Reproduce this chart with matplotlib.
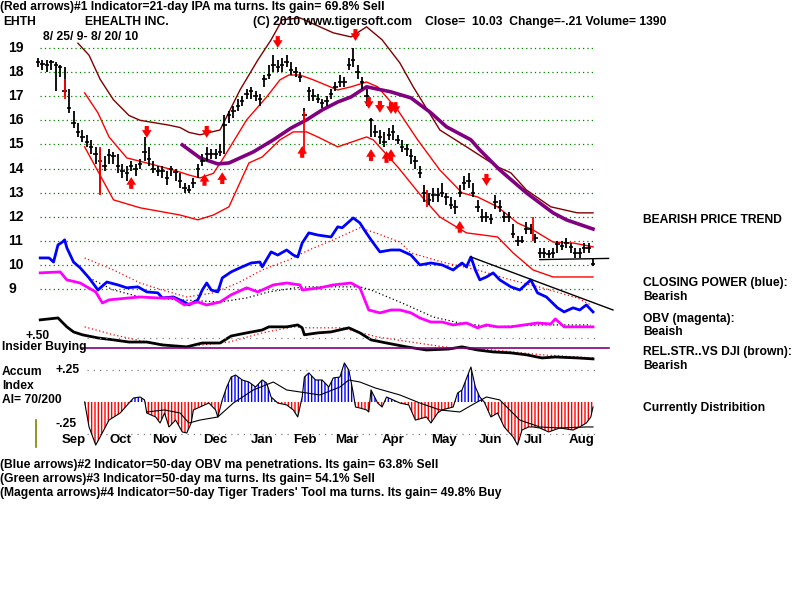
import numpy as np
import matplotlib
matplotlib.use("Agg")
import matplotlib.pyplot as plt

# ---- price bars, one bar every 2 trading days (8/25/09 - 8/20/10) ----
closes = [18.4, 18.35, 18.3, 18.4, 18.3, 18.2, 17.2, 16.5, 15.9, 15.5, 15.3, 15.1, 14.9, 14.6, 14.3, 14.1,
          14.55, 14.5, 14.1, 13.9, 13.8, 14.1, 14.0, 14.2, 14.7, 14.4, 14.0, 13.9, 13.9, 13.6, 14.0, 13.85,
          13.5, 13.2, 13.1, 13.4, 14.0, 14.3, 14.6, 14.6, 14.6, 14.7, 15.8, 16.2, 16.4, 16.6, 16.8, 17.1,
          17.2, 17.0, 16.9, 17.7, 17.9, 18.3, 18.2, 18.3, 18.4, 18.1, 18.0, 17.8, 16.2, 17.2, 17.0, 16.9,
          16.7, 16.8, 17.1, 17.4, 17.6, 17.6, 18.3, 18.5, 18.0, 17.6, 17.0, 16.0, 15.5, 15.3, 15.1, 15.4,
          15.5, 15.2, 14.9, 14.8, 14.5, 14.3, 13.8, 13.0, 12.7, 12.9, 12.9, 13.0, 12.8, 12.5, 12.4, 13.0,
          13.4, 13.5, 13.0, 12.4, 12.0, 12.0, 11.9, 12.6, 12.4, 12.0, 12.0, 11.3, 11.0, 11.0, 11.5, 11.5,
          11.1, 10.5, 10.5, 10.45, 10.5, 10.85, 10.8, 10.9, 10.75, 10.5, 10.5, 10.7, 10.7, 10.03]
highs = [18.6, 18.5, 18.5, 18.5, 18.4, 18.3, 18.2, 17.3, 16.4, 15.9, 15.6, 15.4, 15.2, 14.9, 14.8, 14.5,
         14.8, 14.7, 14.6, 14.2, 14.1, 14.3, 14.2, 14.4, 15.3, 14.9, 14.3, 14.1, 14.1, 13.9, 14.1, 14.0,
         13.8, 13.4, 13.3, 13.6, 14.2, 14.6, 14.9, 14.8, 14.8, 15.0, 16.2, 16.4, 16.6, 16.9, 17.0, 17.3,
         17.4, 17.2, 17.1, 17.9, 18.3, 18.7, 18.5, 18.6, 18.7, 18.4, 18.2, 18.0, 16.5, 17.4, 17.3, 17.1,
         16.9, 17.0, 17.3, 17.6, 17.9, 17.8, 18.6, 19.0, 18.3, 17.8, 17.3, 16.1, 15.8, 15.6, 15.5, 15.7,
         15.8, 15.4, 15.2, 15.0, 14.8, 14.5, 14.1, 13.3, 13.0, 13.2, 13.2, 13.4, 13.0, 12.8, 12.7, 13.3,
         13.7, 13.8, 13.4, 12.7, 12.3, 12.2, 12.1, 12.9, 12.7, 12.2, 12.2, 11.7, 11.2, 11.2, 11.8, 11.7,
         11.3, 10.7, 10.7, 10.6, 10.7, 11.0, 11.0, 11.1, 10.9, 10.7, 10.7, 10.9, 10.9, 10.3]
lows = [18.2, 18.1, 18.0, 18.1, 17.2, 17.8, 17.0, 16.3, 15.7, 15.3, 15.1, 14.9, 14.6, 14.2, 13.0, 13.9,
        14.2, 14.2, 13.8, 13.6, 13.5, 13.9, 13.7, 14.0, 14.3, 14.1, 13.8, 13.7, 13.6, 13.3, 13.7, 13.5,
        13.2, 13.0, 13.0, 13.2, 13.6, 14.1, 14.3, 14.4, 14.4, 14.5, 14.6, 15.9, 16.1, 16.4, 16.6, 16.9,
        16.9, 16.8, 16.6, 17.4, 17.7, 18.0, 18.0, 18.0, 18.2, 17.9, 17.8, 17.6, 15.9, 16.8, 16.8, 16.7,
        16.5, 16.6, 16.9, 17.2, 17.4, 17.4, 18.1, 18.2, 17.7, 17.3, 16.6, 15.3, 15.3, 15.0, 14.9, 15.2,
        15.2, 15.0, 14.7, 14.5, 14.2, 14.0, 13.6, 12.6, 12.5, 12.6, 12.6, 12.8, 12.5, 12.3, 12.1, 12.8,
        13.1, 13.2, 12.8, 12.2, 11.8, 11.8, 11.7, 12.3, 12.2, 11.8, 11.8, 11.1, 10.8, 10.9, 11.3, 11.3,
        10.9, 10.3, 10.3, 10.3, 10.3, 10.5, 10.6, 10.7, 10.5, 10.3, 10.3, 10.5, 10.5, 9.95]
bar_step = 2

# ---- bands around the 21-day ma (day, price) ----
top_days = [18, 23, 28, 34, 41, 46, 59, 64, 68, 73, 82, 91, 99, 105, 110, 118, 133, 141, 148, 155, 163,
            169, 181, 193, 207, 213, 220, 231, 243, 250]
top_band = [19.2, 18.7, 17.7, 16.85, 16.2, 16.0, 15.8, 15.7, 15.5, 15.4, 15.6, 17.26, 18.5, 19.34, 20.17,
            20.25, 19.63, 19.46, 19.88, 19.34, 18.38, 17.39, 15.6, 14.9, 14.07, 13.82, 13.11, 12.41, 12.16, 12.16]
mid_days = [21, 27, 32, 40, 49, 61, 68, 73, 79, 83, 94, 103, 109, 113, 118, 124, 135, 141, 148, 153, 162,
            171, 181, 191, 198, 207, 216, 223, 232, 241, 250]
mid_ma = [17.14, 16.31, 15.31, 14.44, 14.23, 13.94, 13.73, 13.61, 13.8, 14.36, 16.02, 16.97, 17.68, 17.88,
          17.88, 17.68, 17.26, 17.39, 17.59, 17.39, 16.43, 15.19, 13.94, 12.99, 12.82, 12.41, 11.74, 11.45,
          10.95, 10.91, 10.75]
low_days = [21, 34, 46, 64, 72, 79, 86, 95, 101, 109, 115, 121, 126, 135, 148, 151, 162, 173, 181, 193,
            207, 214, 223, 232, 243, 250]
low_band = [14.9, 12.7, 12.37, 12.07, 11.87, 12.07, 12.41, 14.23, 14.48, 15.19, 15.52, 15.52, 15.31, 14.9,
            15.31, 15.19, 14.07, 12.82, 11.99, 11.33, 11.16, 10.5, 9.79, 9.5, 9.5, 9.5]
# 50-day ma (purple)
ma50_days = [65, 73, 81, 86, 97, 106, 114, 121, 128, 135, 141, 148, 159, 168, 177, 184, 195, 199, 208,
             220, 232, 238, 250]
ma50 = [14.98, 14.44, 14.19, 14.23, 14.69, 15.19, 15.68, 16.02, 16.43, 16.76, 16.97, 17.39, 17.18, 16.93,
        16.31, 15.73, 15.19, 14.77, 13.94, 12.99, 12.16, 11.87, 11.49]

# ---- signal arrows (day, price) ----
up_days = [42, 75, 83, 119, 150, 157, 159, 190]
up_px = [13.4, 13.53, 13.6, 14.69, 14.56, 14.48, 14.56, 11.58]
down_days = [49, 76, 108, 143, 149, 154, 159, 161, 202]
down_px = [15.52, 15.52, 19.25, 19.54, 16.72, 16.56, 16.51, 16.51, 13.53]
red_bar_days = [12, 28, 120, 175, 223]
red_bar_lo = [16.9, 12.9, 14.6, 12.4, 11.0]
red_bar_hi = [17.7, 14.9, 16.4, 13.1, 12.0]

# ---- indicators drawn in the lower part of the price panel ----
cp_days = [1, 5, 7, 9, 11, 12, 13, 16, 19, 23, 27, 31, 36, 40, 45, 49, 54, 56, 61, 66, 68, 72, 74, 76, 78,
           81, 83, 87, 91, 96, 100, 101, 105, 108, 112, 115, 117, 119, 122, 126, 132, 135, 137, 142, 145,
           147, 150, 154, 159, 163, 168, 172, 177, 182, 187, 191, 193, 195, 197, 199, 202, 205, 208, 213,
           217, 222, 225, 229, 234, 237, 241, 244, 247, 250]
cp_vals = [10.29, 10.29, 10.12, 10.83, 10.95, 11.04, 10.71, 10.12, 9.88, 9.46, 8.96, 9.29, 9.17, 9.05,
           9.09, 8.88, 8.84, 8.63, 8.67, 8.46, 8.34, 8.55, 8.96, 9.25, 8.96, 8.88, 9.46, 9.71, 9.88, 10.08,
           10.12, 9.92, 10.54, 10.41, 10.62, 10.41, 10.33, 10.91, 11.33, 11.24, 11.16, 11.58, 11.54, 11.95,
           11.74, 11.45, 11.04, 10.54, 10.62, 10.62, 10.41, 10.0, 10.08, 10.0, 9.79, 10.08, 9.92, 10.33,
           9.79, 9.38, 9.5, 9.67, 9.38, 9.09, 8.96, 9.38, 8.84, 8.67, 8.22, 8.05, 8.22, 8.13, 8.34, 8.05]
obv_days = [1, 10, 13, 19, 26, 29, 32, 41, 46, 54, 61, 66, 72, 76, 82, 87, 94, 99, 101, 106, 112, 118, 119,
            127, 133, 141, 145, 149, 154, 159, 163, 168, 172, 177, 182, 187, 193, 198, 202, 207, 213, 219,
            225, 231, 233, 237, 243, 250]
obv_vals = [9.67, 9.71, 9.38, 9.25, 8.88, 8.42, 8.55, 8.63, 8.67, 8.63, 8.63, 8.34, 8.46, 8.34, 8.46, 8.76,
            9.05, 8.88, 8.96, 9.17, 9.25, 9.17, 8.96, 9.05, 9.17, 9.25, 9.05, 8.13, 8.01, 8.13, 8.13, 8.01,
            7.8, 7.63, 7.63, 7.51, 7.59, 7.39, 7.51, 7.43, 7.43, 7.51, 7.59, 7.55, 7.76, 7.43, 7.43, 7.43]
rs_days = [1, 9, 13, 16, 20, 27, 34, 41, 49, 56, 67, 74, 82, 87, 94, 101, 104, 112, 117, 119, 120, 126,
           132, 140, 145, 150, 157, 166, 175, 185, 191, 198, 205, 213, 220, 227, 233, 243, 250]
rs_vals = [7.72, 7.8, 7.43, 7.22, 7.1, 6.97, 6.89, 6.8, 6.8, 6.68, 6.6, 6.76, 6.76, 7.05, 7.18, 7.3, 7.43,
           7.43, 7.51, 7.39, 7.1, 7.18, 7.22, 7.39, 7.18, 6.89, 6.76, 6.6, 6.47, 6.51, 6.6, 6.47, 6.39, 6.35,
           6.27, 6.14, 6.18, 6.14, 6.1]
cp_ma_days = [21, 34, 46, 56, 67, 79, 90, 101, 113, 122, 133, 145, 152, 163, 168, 182, 198, 213, 227, 243, 249]
cp_ma = [10.29, 9.79, 9.25, 8.96, 8.67, 8.84, 9.25, 9.79, 10.21, 10.62, 11.04, 11.54, 11.33, 10.95, 10.5,
         10.12, 9.79, 9.38, 9.05, 8.63, 8.34]
obv_ma_days = [23, 34, 46, 64, 82, 94, 104, 116, 122, 145, 150, 164, 178, 190, 205, 227, 249]
obv_ma = [9.46, 8.96, 8.67, 8.55, 8.46, 8.63, 8.88, 9.05, 9.09, 9.09, 8.96, 8.42, 7.84, 7.59, 7.43, 7.51, 7.51]
rs_ma_days = [21, 34, 49, 64, 74, 86, 101, 115, 122, 137, 153, 168, 186, 205, 227, 250]
rs_ma = [7.43, 7.1, 6.8, 6.6, 6.68, 6.8, 7.18, 7.43, 7.39, 7.39, 7.01, 6.8, 6.56, 6.47, 6.27, 6.14]
cp_trend_days = [195, 259]
cp_trend = [10.33, 8.13]
support_days = [226, 257]
support = [10.22, 10.27]
insider_level = 6.56

# ---- accumulation index (AI units) ----
ai_days = [21, 23, 26, 28, 32, 37, 41, 43, 46, 48, 49, 53, 55, 57, 59, 62, 65, 67, 69, 70, 73, 75, 77, 80,
           81, 83, 85, 87, 89, 92, 95, 98, 101, 103, 105, 108, 112, 115, 117, 119, 120, 122, 125, 128, 131,
           133, 136, 138, 140, 142, 143, 145, 148, 149, 150, 153, 155, 157, 160, 163, 167, 170, 175, 177,
           180, 182, 187, 189, 191, 195, 197, 199, 201, 204, 207, 210, 214, 216, 218, 221, 223, 226, 230,
           235, 241, 244, 247, 249, 250]
ai_vals = [0.0, -0.195, -0.336, -0.273, -0.141, -0.086, -0.008, 0.031, 0.039, 0.016, -0.086, -0.117,
           -0.164, -0.086, -0.195, -0.141, -0.234, -0.242, -0.164, -0.062, -0.039, -0.023, -0.008, -0.062,
           -0.117, 0.016, 0.117, 0.195, 0.211, 0.172, 0.156, 0.117, 0.172, 0.148, 0.039, -0.008, -0.023,
           -0.062, -0.117, 0.039, 0.195, 0.227, 0.172, 0.172, 0.117, 0.188, 0.195, 0.305, 0.25, 0.07, -0.039,
           -0.047, -0.062, -0.078, 0.094, -0.008, -0.039, 0.039, 0.016, -0.008, -0.023, -0.141, -0.117,
           -0.164, -0.086, -0.062, -0.039, 0.07, 0.094, 0.273, 0.117, 0.039, 0.0, -0.117, -0.086, -0.195,
           -0.273, -0.336, -0.219, -0.195, -0.195, -0.203, -0.234, -0.203, -0.219, -0.195, -0.164, -0.117, -0.039]
ai_ma_days = [49, 57, 64, 68, 73, 81, 88, 97, 106, 112, 127, 136, 140, 145, 152, 163, 172, 181, 190, 197,
              202, 208, 217, 226, 235, 247, 250]
ai_ma = [-0.078, -0.062, -0.086, -0.164, -0.141, -0.117, -0.008, 0.094, 0.156, 0.094, 0.055, 0.117, 0.172,
         0.156, 0.109, 0.055, -0.008, -0.062, -0.078, -0.008, 0.039, 0.016, -0.141, -0.195, -0.203, -0.195, -0.195]

month_names = ['Sep', 'Oct', 'Nov', 'Dec', 'Jan', 'Feb', 'Mar', 'Apr', 'May', 'Jun', 'Jul', 'Aug']
month_days = [16, 37, 57, 80, 101, 120, 139, 160, 183, 204, 223, 245]
price_levels = [19, 18, 17, 16, 15, 14, 13, 12, 11, 10, 9]

plt.rcParams['font.family'] = ['Liberation Sans', 'DejaVu Sans']
plt.rcParams['hatch.linewidth'] = 1.0

fig = plt.figure(figsize=(8, 6), dpi=100)
fig.patch.set_facecolor('white')
pos = [30 / 800, 1 - 450 / 600, 585 / 800, 435 / 600]
ax = fig.add_axes(pos)
ax.set_xlim(-3.6, 259.9)
ax.set_ylim(2.32, 20.37)
ax.axis('off')
ax2 = fig.add_axes(pos)
ax2.set_xlim(-3.6, 259.9)
ax2.set_ylim(-0.375, 3.023)
ax2.axis('off')
ax2.patch.set_alpha(0)

# grid
for p in price_levels:
    ax.plot([1, 251], [p, p], color='#008000', lw=0.9, ls=(0, (1, 2.5)))
    ax.text(-13.5, p, str(p), fontsize=10, fontweight='bold', va='center', ha='left')
for a in [0.5, 0.25, -0.25]:
    ax2.plot([22, 251], [a, a], color='#808080', lw=0.9, ls=(0, (1, 4)))

# bands & averages
ax.plot(top_days, top_band, color='#800000', lw=1)
ax.plot(mid_days, mid_ma, color='#ff0000', lw=1)
ax.plot(low_days, low_band, color='#ff0000', lw=1)
ax.plot(ma50_days, ma50, color='#800080', lw=2.6)

# price bars
d = np.arange(len(closes)) * bar_step
c = np.array(closes)
ax.vlines(d, lows, highs, color='black', lw=1.3)
ax.hlines(c, d - 1.0, d + 1.0, color='black', lw=1.2)
ax.vlines(red_bar_days, red_bar_lo, red_bar_hi, color='#ff0000', lw=1.3)
ax.plot(support_days, support, color='black', lw=1)

# arrows
astyle = 'simple,head_width=0.7,head_length=0.55,tail_width=0.3'
for x, y in zip(up_days, up_px):
    ax.annotate('', xy=(x, y + 0.36), xytext=(x, y - 0.36),
                arrowprops=dict(arrowstyle=astyle, color='#ff0000', lw=0))
for x, y in zip(down_days, down_px):
    ax.annotate('', xy=(x, y - 0.36), xytext=(x, y + 0.36),
                arrowprops=dict(arrowstyle=astyle, color='#ff0000', lw=0))

# indicator lines
ax.plot(cp_ma_days, cp_ma, color='#ff0000', lw=0.9, ls=(0, (1, 2)))
ax.plot(obv_ma_days, obv_ma, color='black', lw=0.9, ls=(0, (1, 2)))
ax.plot(rs_ma_days, rs_ma, color='#ff0000', lw=0.9, ls=(0, (1, 2)))
ax.plot(cp_days, cp_vals, color='#0000ff', lw=2)
ax.plot(obv_days, obv_vals, color='#ff00ff', lw=2)
ax.plot(rs_days, rs_vals, color='black', lw=2)
ax.plot(cp_trend_days, cp_trend, color='black', lw=1)
ax.plot([20, 257], [insider_level, insider_level], color='#800080', lw=1.2)

# accumulation index histogram
ad = np.array(ai_days)
av = np.array(ai_vals)
ax2.fill_between(ad, 0, av, where=av >= 0, interpolate=True, facecolor='none',
                 edgecolor='#0000ff', hatch='|||||', lw=0)
ax2.fill_between(ad, 0, av, where=av <= 0, interpolate=True, facecolor='none',
                 edgecolor='#ff0000', hatch='|||||', lw=0)
ax2.plot(ad, av, color='black', lw=0.8)
ax2.plot(ai_ma_days, ai_ma, color='black', lw=0.8)
ax2.plot([-1, -1], [-0.14, -0.35], color='#808000', lw=1.2)
for name, md in zip(month_names, month_days):
    ax2.text(md, -0.295, name, fontsize=9.5, fontweight='bold', ha='center', va='center')

# texts
def ftext(px, py, s, **kw):
    fig.text(px / 800, 1 - py / 600, s, fontsize=8.7, fontweight='bold', va='center', ha='left', **kw)

ftext(0, 7, "(Red arrows)#1 Indicator=21-day IPA ma turns. Its gain= 69.8% Sell")
ftext(3, 22, "EHTH")
ftext(85, 22, "EHEALTH INC.")
ftext(253, 22, "(C) 2010 www.tigersoft.com")
ftext(425, 22, "Close=  10.03  Change=-.21 Volume= 1390")
ftext(43, 37, "8/ 25/ 9- 8/ 20/ 10")
ftext(25, 336, "+.50")
ftext(2, 347, "Insider Buying")
ftext(2, 372, "Accum")
ftext(2, 386, "Index")
ftext(2, 400, "AI= 70/200")
ftext(55, 370, "+.25")
ftext(55, 424, "-.25")
ftext(643, 220, "BEARISH PRICE TREND")
ftext(643, 283, "CLOSING POWER (blue):")
ftext(643, 297, "Bearish")
ftext(643, 319, "OBV (magenta):")
ftext(643, 332, "Beaish")
ftext(643, 352, "REL.STR..VS DJI (brown):")
ftext(643, 366, "Bearish")
ftext(643, 408, "Currently Distribition")
ftext(0, 465, "(Blue arrows)#2 Indicator=50-day OBV ma penetrations. Its gain= 63.8% Sell")
ftext(0, 479, "(Green arrows)#3 Indicator=50-day ma turns. Its gain= 54.1% Sell")
ftext(0, 493, "(Magenta arrows)#4 Indicator=50-day Tiger Traders' Tool ma turns. Its gain= 49.8% Buy")

fig.savefig('out.png', dpi=100, facecolor='white')
